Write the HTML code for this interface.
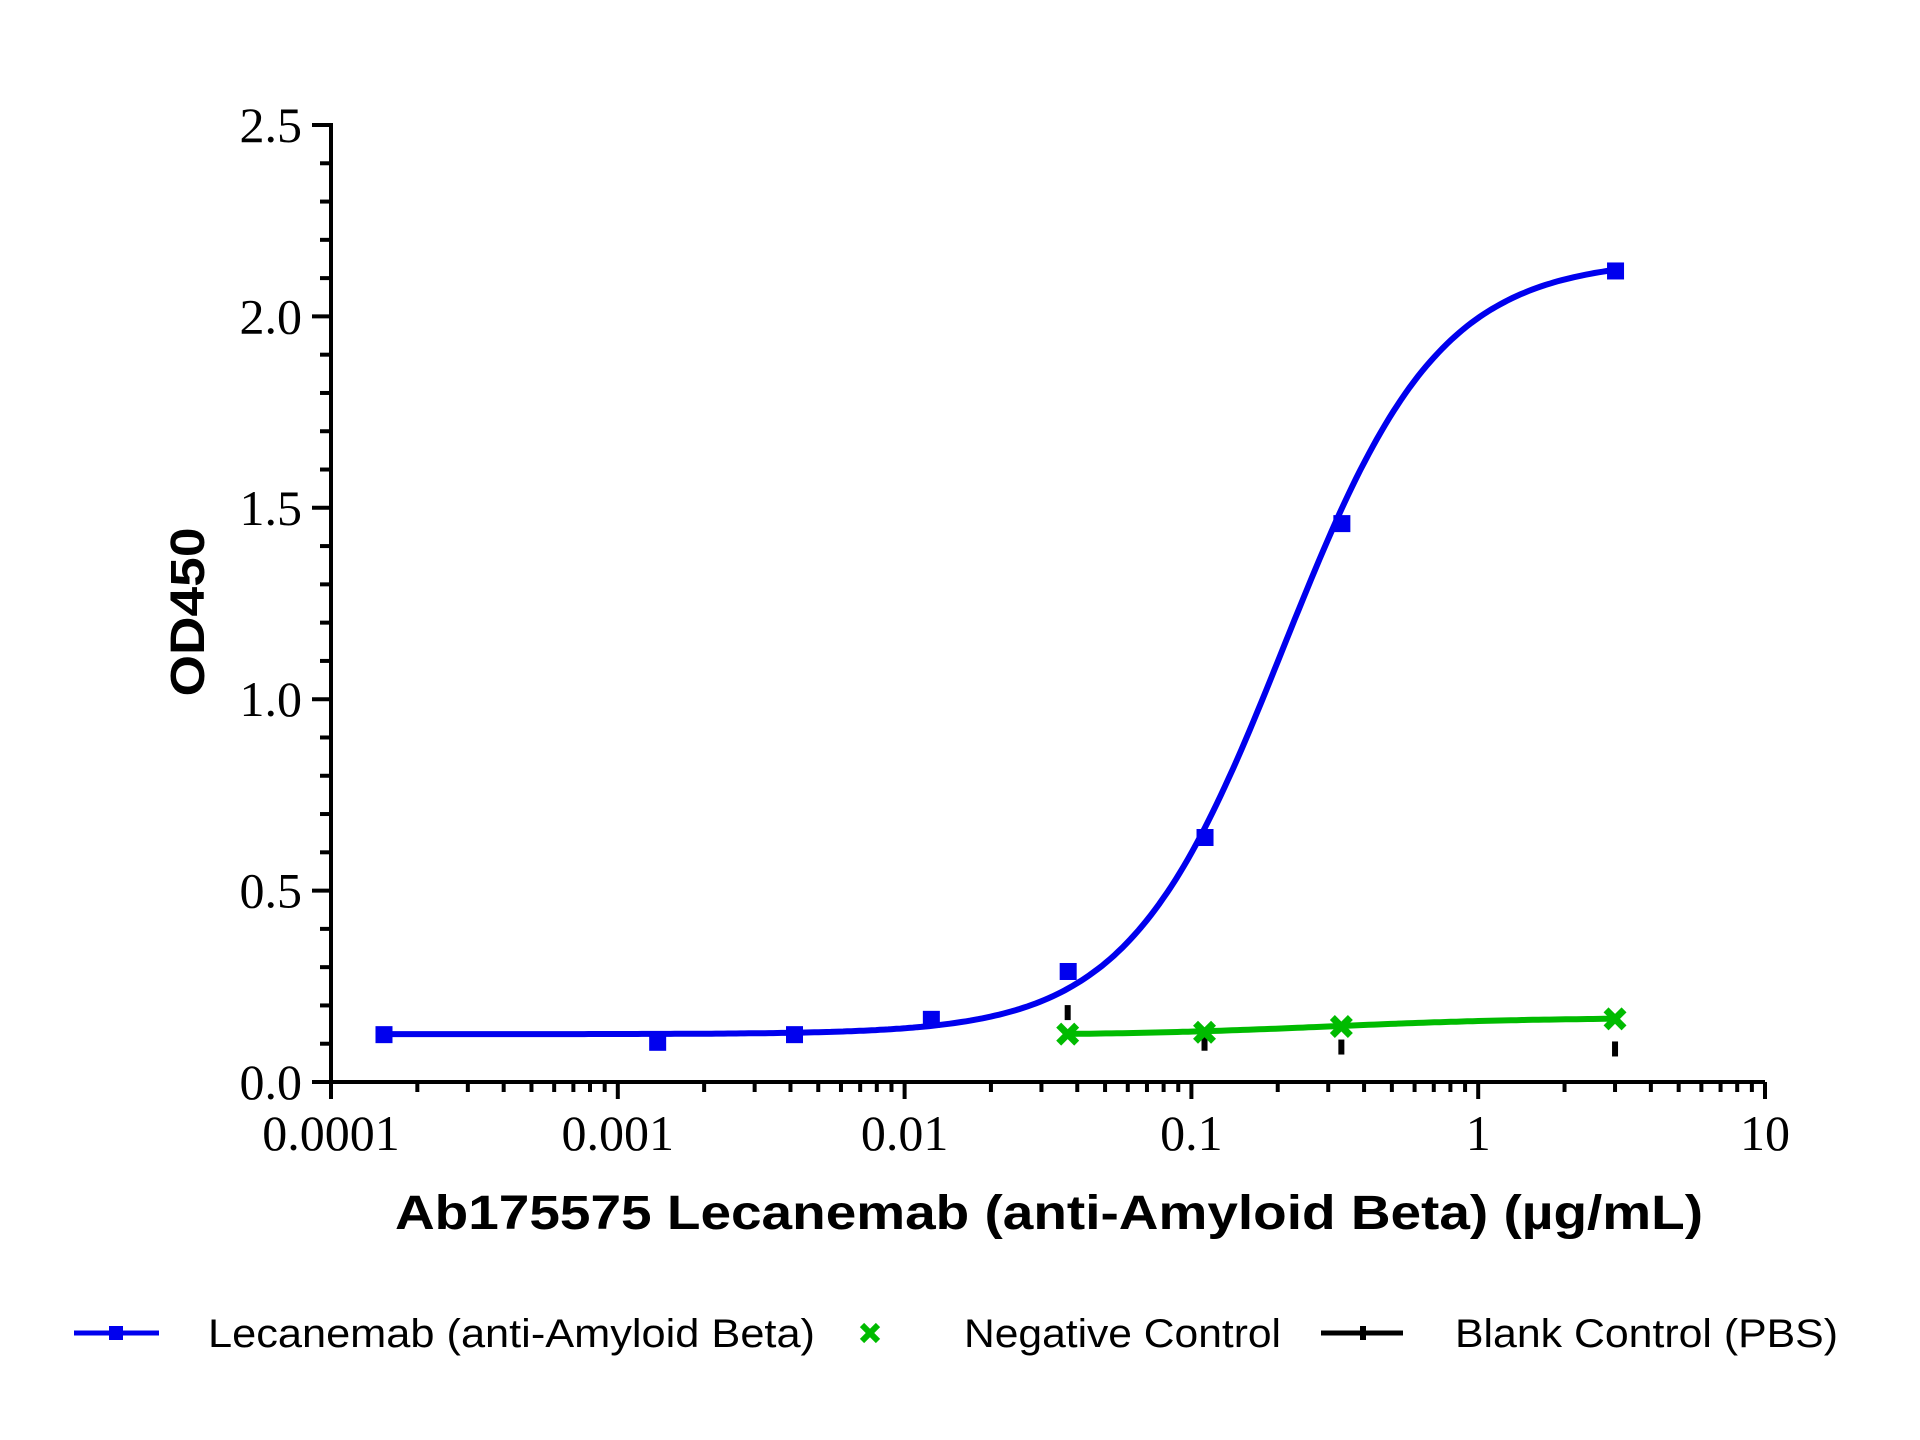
<!DOCTYPE html>
<html><head><meta charset="utf-8"><style>html,body{margin:0;padding:0;background:#fff}svg{display:block}</style></head>
<body>
<svg id="s" width="1920" height="1440" viewBox="0 0 1920 1440" xmlns="http://www.w3.org/2000/svg">
<rect width="1920" height="1440" fill="#fff"/>
<g id="ax" stroke="#000" stroke-width="4" fill="none"></g>
<g font-family="Liberation Serif, serif" font-size="50" fill="#000" id="lbl"></g>
<g id="data"></g>
<text x="1049" y="1229" text-anchor="middle" font-family="Liberation Sans, sans-serif" font-weight="bold" font-size="48" textLength="1308" lengthAdjust="spacingAndGlyphs">Ab175575 Lecanemab (anti-Amyloid Beta) (µg/mL)</text>
<text transform="translate(204,612) rotate(-90)" text-anchor="middle" font-family="Liberation Sans, sans-serif" font-weight="bold" font-size="48" textLength="169" lengthAdjust="spacingAndGlyphs">OD450</text>
<g font-family="Liberation Sans, sans-serif" font-size="40" fill="#000">
<line x1="74" y1="1333" x2="159" y2="1333" stroke="#0000ee" stroke-width="5"/>
<rect x="109" y="1326" width="14" height="14" fill="#0000ee"/>
<text x="208" y="1347" textLength="607" lengthAdjust="spacingAndGlyphs">Lecanemab (anti-Amyloid Beta)</text>
<g stroke="#00bb00" stroke-width="6"><line x1="862" y1="1325" x2="878" y2="1341"/><line x1="878" y1="1325" x2="862" y2="1341"/></g>
<text x="964" y="1347" textLength="317" lengthAdjust="spacingAndGlyphs">Negative Control</text>
<line x1="1321" y1="1333" x2="1403" y2="1333" stroke="#000" stroke-width="5"/>
<rect x="1360" y="1326" width="6" height="14" fill="#000"/>
<text x="1455" y="1347" textLength="383" lengthAdjust="spacingAndGlyphs">Blank Control (PBS)</text>
</g>
</svg>
<script>
var NS="http://www.w3.org/2000/svg";
function X(c){return 331+286.8*(Math.log10(c)+4);}
function Y(v){return 1082-382.8*v;}
function el(p,t,a,txt){var e=document.createElementNS(NS,t);for(var k in a)e.setAttribute(k,a[k]);if(txt!=null)e.textContent=txt;p.appendChild(e);return e;}
var ax=document.getElementById('ax'),lb=document.getElementById('lbl'),dg=document.getElementById('data');
el(ax,'line',{x1:331,y1:Y(2.5)-2,x2:331,y2:1084});
el(ax,'line',{x1:329,y1:1082,x2:X(10),y2:1082});
for(var i=0;i<=25;i++){var v=i/10,maj=i%5==0;el(ax,'line',{x1:maj?312:320,y1:Y(v),x2:331,y2:Y(v)});
 if(maj)el(lb,'text',{x:302,y:Y(v)+17,'text-anchor':'end'},v.toFixed(1));}
var xl=['0.0001','0.001','0.01','0.1','1','10'];
for(var d=0;d<=5;d++){var c=Math.pow(10,d-4);el(ax,'line',{x1:X(c),y1:1082,x2:X(c),y2:1099});
 el(lb,'text',{x:X(c),y:1150,'text-anchor':'middle'},xl[d]);
 if(d<5)for(var m=2;m<=9;m++)el(ax,'line',{x1:X(c*m),y1:1082,x2:X(c*m),y2:1092});}
function f(c){return 0.125+2.025/(1+Math.pow(0.21/c,1.6));}
var p='';for(var i=0;i<=300;i++){var lc=Math.log10(0.000152)+i/300*(Math.log10(3)-Math.log10(0.000152));var c=Math.pow(10,lc);p+=(i?'L':'M')+X(c).toFixed(1)+' '+Y(f(c)).toFixed(1);}
el(dg,'path',{d:p,stroke:'#0000ee','stroke-width':6,fill:'none'});
var bc=[3/19683,3/2187,3/729,3/243,3/81,3/27,1/3,3],bv=[0.125,0.105,0.125,0.165,0.29,0.64,1.46,2.12];
for(var i=0;i<8;i++)el(dg,'rect',{x:X(bc[i])-8,y:Y(bv[i])-8,width:17,height:17,fill:'#0000ee'});
var gc=[1/27,1/9,1/3,3],gv=[0.125,0.13,0.145,0.165];
var bl=[0.18,0.1,0.09,0.085];
for(var i=0;i<4;i++)el(dg,'rect',{x:X(gc[i])-3,y:Y(bl[i])-8,width:6,height:15,fill:'#000'});
var gp='';for(var i=0;i<=100;i++){var lc=Math.log10(1/27)+i/100*(Math.log10(3)-Math.log10(1/27));var c=Math.pow(10,lc);var v=0.122+0.046/(1+Math.pow(0.3/c,1.2));gp+=(i?'L':'M')+X(c).toFixed(1)+' '+Y(v).toFixed(1);}
el(dg,'path',{d:gp,stroke:'#00bb00','stroke-width':6,fill:'none'});
for(var i=0;i<4;i++){var x=X(gc[i]),y=Y(gv[i]);var g=el(dg,'g',{stroke:'#00bb00','stroke-width':7});
 el(g,'line',{x1:x-9,y1:y-9,x2:x+9,y2:y+9});el(g,'line',{x1:x+9,y1:y-9,x2:x-9,y2:y+9});}
</script>
</body></html>
